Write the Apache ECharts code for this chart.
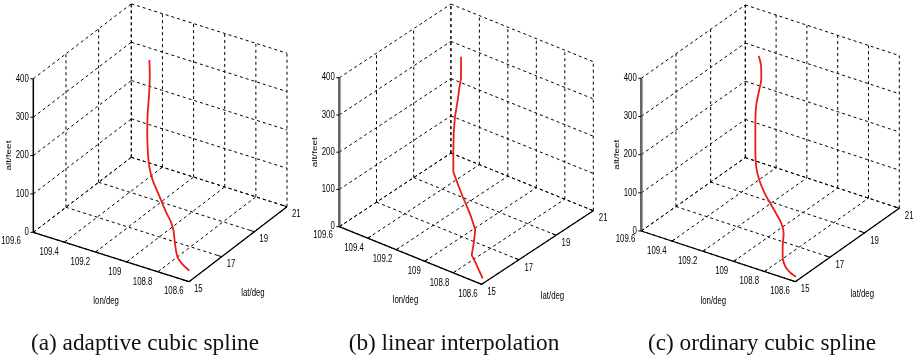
<!DOCTYPE html>
<html><head><meta charset="utf-8">
<script src="https://cdn.jsdelivr.net/npm/echarts@6/dist/echarts.min.js"></script>
<style>html,body{margin:0;padding:0;background:#fff}#c{width:918px;height:359px}</style>
</head><body><div id="c"></div>
<script>
// ---- data ----
const lonTicks = [109.6, 109.4, 109.2, 109, 108.8, 108.6];
const latTicks = [15, 17, 19, 21];
const altTicks = [0, 100, 200, 300, 400];
const lonTickLabels = ['109.6', '109.4', '109.2', '109', '108.8', '108.6'];
const latTickLabels = ['15', '17', '19', '21'];
const altTickLabels = ['0', '100', '200', '300', '400'];
const axisNames = { lon: 'lon/deg', lat: 'lat/deg', alt: 'alt/feet' };

// (a) adaptive cubic spline
const lonA = [108.664, 108.710, 108.741, 108.773, 108.802, 108.827, 108.859, 108.895, 108.936, 108.976, 109.013, 109.041, 109.076, 109.104, 109.127, 109.156, 109.185];
const latA = [15.63, 15.60, 15.63, 15.79, 15.97, 16.05, 16.10, 16.18, 16.27, 16.36, 16.51, 16.69, 16.98, 17.27, 17.57, 17.90, 18.15];
const altA = [0, 14, 27, 52, 77, 93, 109, 128, 150, 172, 197, 223, 261, 296, 330, 368, 400];
// (b) linear interpolation
const lonB = [108.635, 108.697, 108.733, 108.750, 108.772, 108.813, 108.852, 108.899, 108.949, 108.994, 109.033, 109.075, 109.105, 109.129, 109.148, 109.162, 109.209];
const latB = [15.32, 15.43, 15.48, 15.72, 15.97, 16.09, 16.18, 16.27, 16.38, 16.49, 16.79, 17.13, 17.43, 17.76, 17.99, 18.19, 18.55];
const altB = [0, 27, 42, 63, 87, 108, 126, 147, 171, 192, 226, 262, 292, 322, 343, 361, 400];
// (c) ordinary cubic spline
const lonC = [108.628, 108.661, 108.695, 108.726, 108.745, 108.767, 108.797, 108.839, 108.884, 108.928, 108.978, 109.017, 109.060, 109.098, 109.134, 109.151, 109.165, 109.189, 109.220];
const latC = [15.29, 15.26, 15.27, 15.39, 15.56, 15.81, 15.94, 16.01, 16.08, 16.15, 16.28, 16.45, 16.78, 17.12, 17.48, 17.79, 18.06, 18.26, 18.40];
const altC = [0, 7, 18, 36, 54, 79, 97, 115, 133, 151, 175, 199, 236, 272, 308, 335, 360, 381, 400];

const captions = ['(a) adaptive cubic spline', '(b) linear interpolation', '(c) ordinary cubic spline'];

// ---- layout (3D view of each panel, in panel pixels) ----
const views = [
  { left: 0,   o: [33.3, 232.3], vLon: [155.7, 49.4], vLat: [98, -75],     vAlt: [0, -153.5], altW: 1.5, altC: '#000', lonDx: -5.5, lon0dx: -12.5, latDx: 5, capX: 145, smooth: 0.35 },
  { left: 306, o: [33.3, 226.7], vLon: [142.4, 57.6], vLat: [111.6, -73.6], vAlt: [0, -149], altW: 2.6, altC: '#666', lonDx: -4, lon0dx: -6.5, latDx: 5.5, capX: 454, smooth: false },
  { left: 612, o: [29.3, 231],   vLon: [154, 50.7],   vLat: [104, -73.4],   vAlt: [0, -152.7], altW: 2.6, altC: '#666', lonDx: -5.5, lon0dx: -6, latDx: 5.5, capX: 762, smooth: 0.35 }
];
const tracks = [[lonA, latA, altA], [lonB, latB, altB], [lonC, latC, altC]];

const LON0 = lonTicks[0], LON1 = lonTicks[lonTicks.length - 1];
const LAT0 = latTicks[0], LAT1 = latTicks[latTicks.length - 1];
const ALT0 = altTicks[0], ALT1 = altTicks[altTicks.length - 1];

function proj(v, lon, lat, alt) {
  const fl = (LON0 - lon) / (LON0 - LON1);
  const ft = (lat - LAT0) / (LAT1 - LAT0);
  const fa = (alt - ALT0) / (ALT1 - ALT0);
  return [v.o[0] + fl * v.vLon[0] + ft * v.vLat[0] + fa * v.vAlt[0],
          v.o[1] + fl * v.vLon[1] + ft * v.vLat[1] + fa * v.vAlt[1]];
}

const FONT = '10px "Liberation Sans", Arial, sans-serif';
const SQ = 0.78; // horizontal squeeze of the axis text

const grid = [], xAxis = [], yAxis = [], series = [];

views.forEach((v, i) => {
  grid.push({ left: v.left, top: 0, width: 306, height: 310 });
  xAxis.push({ type: 'value', gridIndex: i, min: 0, max: 306, show: false });
  yAxis.push({ type: 'value', gridIndex: i, min: 0, max: 310, inverse: true, show: false });

  // dashed grid on the three back planes
  const segs = [];
  altTicks.forEach(a => { segs.push([LON0, LAT0, a, LON0, LAT1, a]); segs.push([LON0, LAT1, a, LON1, LAT1, a]); });
  latTicks.forEach(t => { if (t !== LAT0) segs.push([LON0, t, ALT0, LON0, t, ALT1]); segs.push([LON0, t, ALT0, LON1, t, ALT0]); });
  lonTicks.forEach(l => { segs.push([l, LAT1, ALT0, l, LAT1, ALT1]); segs.push([l, LAT0, ALT0, l, LAT1, ALT0]); });

  series.push({
    type: 'custom', xAxisIndex: i, yAxisIndex: i, silent: true, z: 1,
    data: segs.map((s, k) => [k]),
    renderItem: (params, api) => {
      const s = segs[params.dataIndex];
      const a = api.coord(proj(v, s[0], s[1], s[2]));
      const b = api.coord(proj(v, s[3], s[4], s[5]));
      return { type: 'line', shape: { x1: a[0], y1: a[1], x2: b[0], y2: b[1] },
        style: { stroke: '#000', lineWidth: 1, lineDash: [3, 3] } };
    }
  });

  // solid axes and ticks
  const axes = [
    { s: [LON0, LAT0, ALT0, LON1, LAT0, ALT0], w: 1.3, c: '#000' },
    { s: [LON1, LAT0, ALT0, LON1, LAT1, ALT0], w: 1.3, c: '#000' },
    { s: [LON0, LAT0, ALT0, LON0, LAT0, ALT1], w: v.altW, c: v.altC }
  ];
  lonTicks.forEach(l => axes.push({ s: [l, LAT0, ALT0, l, LAT0 + 0.17, ALT0], w: 1, c: '#000' }));
  latTicks.forEach(t => axes.push({ s: [LON1, t, ALT0, LON1 + 0.028, t, ALT0], w: 1, c: '#000' }));
  altTicks.forEach(a => axes.push({ s: [LON0, LAT0, a, LON0, LAT0, a], w: 1, c: '#000', px: -3 }));

  series.push({
    type: 'custom', xAxisIndex: i, yAxisIndex: i, silent: true, z: 3,
    data: axes.map((s, k) => [k]),
    renderItem: (params, api) => {
      const d = axes[params.dataIndex], s = d.s;
      const a = api.coord(proj(v, s[0], s[1], s[2]));
      let b = api.coord(proj(v, s[3], s[4], s[5]));
      if (d.px) b = [a[0] + d.px, a[1]];
      return { type: 'line', shape: { x1: a[0], y1: a[1], x2: b[0], y2: b[1] },
        style: { stroke: d.c, lineWidth: d.w } };
    }
  });

  // labels
  const labels = [];
  altTicks.forEach((a, k) => labels.push({ p: [LON0, LAT0, a], text: altTickLabels[k], dx: -4.5, dy: 0, align: 'right' }));
  lonTicks.forEach((l, k) => labels.push({ p: [l, LAT0, ALT0], text: lonTickLabels[k], dx: k === 0 ? v.lon0dx : v.lonDx, dy: k === 0 ? 8.5 : 10, align: 'right' }));
  latTicks.forEach((t, k) => labels.push({ p: [LON1, t, ALT0], text: latTickLabels[k], dx: v.latDx, dy: 8, align: 'left' }));
  labels.push({ p: [(LON0 + LON1) / 2, LAT0, ALT0], text: axisNames.lon, dx: -5, dy: 44.5, align: 'center' });
  labels.push({ p: [LON1, (LAT0 + LAT1) / 2, ALT0], text: axisNames.lat, dx: 15, dy: 49, align: 'center' });
  labels.push({ p: [LON0, LAT0, (ALT0 + ALT1) / 2], text: axisNames.alt, dx: -24, dy: 0, align: 'center', rot: true });

  series.push({
    type: 'custom', xAxisIndex: i, yAxisIndex: i, silent: true, z: 4,
    data: labels.map((s, k) => [k]),
    renderItem: (params, api) => {
      const L = labels[params.dataIndex];
      const c = api.coord(proj(v, L.p[0], L.p[1], L.p[2]));
      return {
        type: 'text', x: c[0] + L.dx, y: c[1] + L.dy,
        rotation: L.rot ? Math.PI / 2 : 0,
        scaleX: L.rot ? 1 : SQ, scaleY: L.rot ? SQ : 1,
        style: { text: L.text, x: 0, y: 0, fill: '#000', font: FONT,
          textAlign: L.align, align: L.align, textVerticalAlign: 'middle', verticalAlign: 'middle' }
      };
    }
  });

  // trajectory
  const [lo, la, al] = tracks[i];
  series.push({
    type: 'line', xAxisIndex: i, yAxisIndex: i, silent: true, z: 5,
    data: lo.map((x, k) => proj(v, x, la[k], al[k])),
    showSymbol: false, symbol: 'none', smooth: v.smooth, clip: false,
    lineStyle: { color: '#ec1c1c', width: 1.8 }
  });
});

const chart = echarts.init(document.getElementById('c'), null, { renderer: 'canvas' });
chart.setOption({
  animation: false,
  backgroundColor: '#fff',
  grid, xAxis, yAxis, series,
  graphic: captions.map((t, i) => ({
    type: 'text', x: views[i].capX, y: 344, scaleX: 0.97,
    style: { text: t, fill: '#111', font: '24px "Liberation Serif", "Times New Roman", serif',
      textAlign: 'center', align: 'center', textVerticalAlign: 'middle', verticalAlign: 'middle' }
  }))
});
</script></body></html>
